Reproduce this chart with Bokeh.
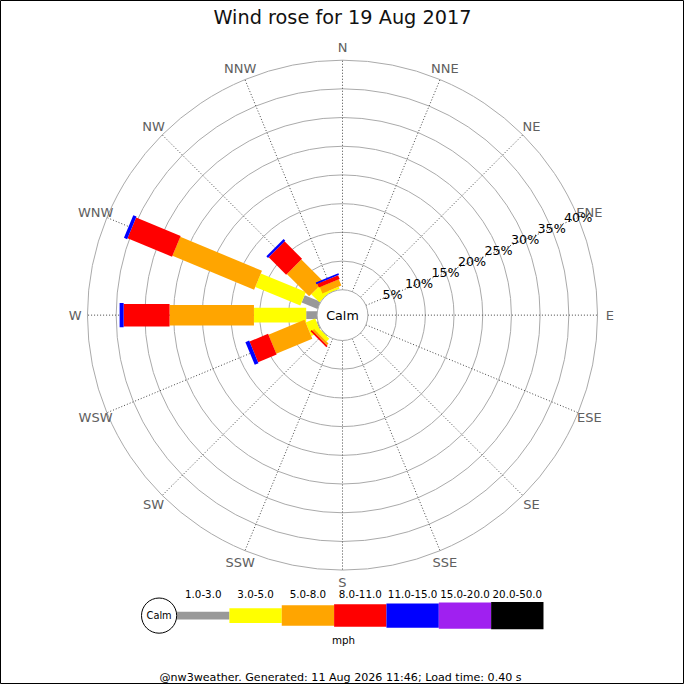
import numpy as np
from bokeh.plotting import figure
from bokeh.models import Range1d, ColumnDataSource
from bokeh.core.properties import value
from bokeh.embed import file_html
from bokeh.resources import INLINE

# ---------------- data ----------------
title_text = "Wind rose for 19 Aug 2017"
footer_text = "@nw3weather. Generated: 11 Aug 2026 11:46; Load time: 0.40 s"
calm_label = "Calm"
speed_unit = "mph"
directions = ["N", "NNE", "NE", "ENE", "E", "ESE", "SE", "SSE",
              "S", "SSW", "SW", "WSW", "W", "WNW", "NW", "NNW"]
speed_classes = ["1.0-3.0", "3.0-5.0", "5.0-8.0", "8.0-11.0",
                 "11.0-15.0", "15.0-20.0", "20.0-50.0"]
class_colors = ["#999999", "#ffff00", "#ffa500", "#ff0000",
                "#0000ff", "#a020f0", "#000000"]
# percent of time per direction (N..NNW) for each speed class
pct_1_3   = [0, 0, 0, 0, 0, 0, 0, 0, 0, 0, 0.1, 0.2, 1.9, 3.0, 0.0, 0.0]
pct_3_5   = [0, 0, 0, 0, 0, 0, 0, 0, 0, 0, 0.7, 1.8, 9.1, 8.5, 2.0, 0.4]
pct_5_8   = [0, 0, 0, 0, 0, 0, 0, 0, 0, 0, 0.4, 6.8, 14.7, 15.4, 5.5, 1.2]
pct_8_11  = [0, 0, 0, 0, 0, 0, 0, 0, 0, 0, 0.3, 3.5, 8.0, 8.4, 4.3, 0.7]
pct_11_15 = [0, 0, 0, 0, 0, 0, 0, 0, 0, 0, 0.0, 0.7, 0.7, 0.6, 0.4, 0.3]
pct_15_20 = [0] * 16
pct_20_50 = [0] * 16
ring_ticks = [5, 10, 15, 20, 25, 30, 35, 40]

series = [pct_1_3, pct_3_5, pct_5_8, pct_8_11, pct_11_15, pct_15_20, pct_20_50]

# ---------------- layout constants ----------------
W = H = 684
S = W / 700.0            # screen px per reference px
K = 5.875                # reference px per percent
HOLE = 26.0 / K          # calm hole radius in percent units
CX, CY = 350.0, 322.0
bar_px = [8, 15, 21, 23, 25, 27, 28]
FONT = value("DejaVu Sans")


def rx(X):
    return (X - CX) / K


def ry(Y):
    return (CY - Y) / K


p = figure(width=W, height=H, output_backend="svg", toolbar_location=None,
           x_range=Range1d(rx(0), rx(700)), y_range=Range1d(ry(700), ry(0)),
           min_border=0)
p.axis.visible = False
p.grid.visible = False
p.outline_line_color = "black"
p.outline_line_width = 1
p.background_fill_color = "white"
p.border_fill_color = "white"

bearings = np.arange(16) * 22.5
phi = np.radians(90 - bearings)

# rings
ring_r = [HOLE + t for t in ring_ticks]
p.circle(x=[0] * len(ring_r), y=[0] * len(ring_r), radius=ring_r,
         fill_alpha=0, line_color="#aaaaaa", line_width=1)

# spokes
r_out = HOLE + ring_ticks[-1]
p.segment(x0=HOLE * np.cos(phi), y0=HOLE * np.sin(phi),
          x1=r_out * np.cos(phi), y1=r_out * np.sin(phi),
          line_color="#444444", line_width=1, line_dash="1 2")

# bars
cum = np.zeros(16)
for ci, vals in enumerate(series):
    v = np.array(vals, dtype=float)
    inner = HOLE + cum
    outer = HOLE + cum + v
    mask = v > 0
    mid = (inner + outer) / 2
    src = ColumnDataSource(dict(
        x=(mid * np.cos(phi))[mask], y=(mid * np.sin(phi))[mask],
        w=(outer - inner)[mask], a=phi[mask]))
    p.rect(x="x", y="y", width="w", height=bar_px[ci] * S, angle="a",
           height_units="screen", source=src,
           fill_color=class_colors[ci], line_color=None)
    cum = cum + v

# calm circle
p.circle(x=[0], y=[0], radius=HOLE, fill_color="white", line_color="#aaaaaa",
         line_width=1)
p.text(x=[0], y=[0], text=[calm_label], text_align="center",
       text_baseline="middle", text_font=FONT, text_font_size=f"{13*S:.1f}px",
       text_color="black")

# direction labels
lab_r = 273.5 / K
p.text(x=lab_r * np.cos(phi), y=lab_r * np.sin(phi), text=directions,
       text_align="center", text_baseline="middle", text_font=FONT,
       text_font_size=f"{13.3*S:.1f}px", text_color="#606060")

# percent labels along ENE
pa = np.radians(90 - 67.5)
p.text(x=[r * np.cos(pa) for r in ring_r], y=[r * np.sin(pa) for r in ring_r],
       text=[f"{t}%" for t in ring_ticks], text_align="center",
       text_baseline="middle", text_font=FONT,
       text_font_size=f"{13*S:.1f}px", text_color="black")

# title
p.text(x=[rx(350)], y=[ry(17)], text=[title_text], text_align="center",
       text_baseline="middle", text_font=FONT,
       text_font_size=f"{19.8*S:.1f}px", text_color="#111111")

# legend
LX0, LSTEP, LY = 180.7, 53.57, 629.5
n = len(speed_classes)
lx = [rx(LX0 + LSTEP * (i + 0.5)) for i in range(n)]
p.rect(x=lx, y=[ry(LY)] * n, width=[LSTEP / K] * n,
       height=[b * S for b in bar_px], height_units="screen",
       fill_color=class_colors, line_color=None)
p.text(x=lx, y=[ry(607.7)] * n, text=speed_classes, text_align="center",
       text_baseline="middle", text_font=FONT,
       text_font_size=f"{10.5*S:.1f}px", text_color="black")
p.circle(x=[rx(162.3)], y=[ry(LY)], radius=18.0 / K, fill_color="white",
         line_color="black", line_width=1)
p.text(x=[rx(162.3)], y=[ry(LY)], text=[calm_label], text_align="center",
       text_baseline="middle", text_font=FONT,
       text_font_size=f"{10*S:.1f}px", text_color="black")
p.text(x=[rx(351)], y=[ry(654.3)], text=[speed_unit], text_align="center",
       text_baseline="middle", text_font=FONT,
       text_font_size=f"{10.5*S:.1f}px", text_color="black")

# footer
p.text(x=[rx(348)], y=[ry(693.3)], text=[footer_text], text_align="center",
       text_baseline="middle", text_font=FONT,
       text_font_size=f"{11.4*S:.1f}px", text_color="black")

open("out.html", "w").write(file_html(p, INLINE))
